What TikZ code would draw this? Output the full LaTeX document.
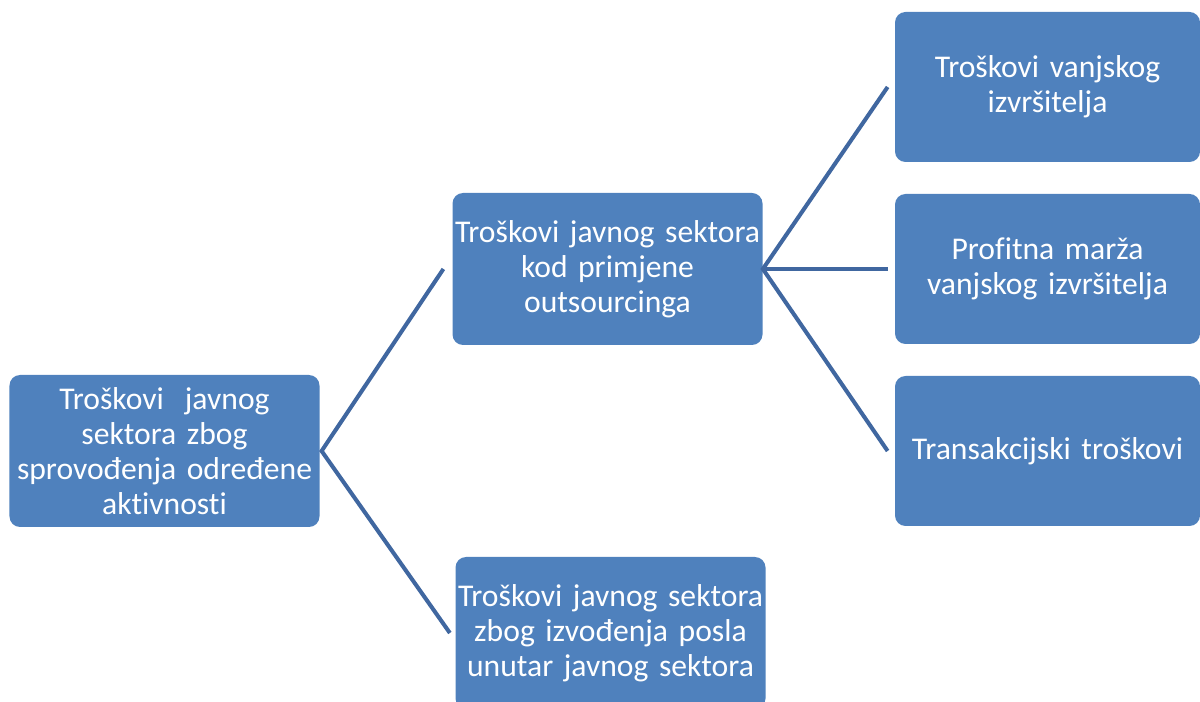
\documentclass[tikz,border=0pt]{standalone}
\usepackage{fontspec}
\setmainfont{Carlito}[Ligatures=NoCommon, WordSpace=0.8]
\usepackage{xcolor}
\usepackage{tikz}
\usetikzlibrary{positioning}
\definecolor{boxblue}{HTML}{4F81BD}
\definecolor{lineblue}{HTML}{4067A0}
\tikzstyle{costbox} = [rectangle, rounded corners=6pt, inner sep=0pt, minimum width=6.2cm, minimum height=3.04cm, text width=6.2cm, align=center, fill=boxblue, text=white, font=\fontsize{18}{20}\selectfont]
\tikzstyle{leafbox} = [costbox, minimum width=6.1cm, minimum height=3cm, text width=6.1cm]
\tikzstyle{branch} = [draw=lineblue, line width=2.3pt]

\begin{document}
\begin{tikzpicture}[on grid]
  \useasboundingbox (0,0) rectangle (24,14.04);
  \node (root) [costbox] at (3.29,5.02) {Troškovi\ \ javnog\\sektora zbog\\sprovođenja određene\\aktivnosti};
  \node (outsrc) [costbox, above right=3.64cm and 8.86cm of root] {Troškovi javnog sektora\\kod primjene\\outsourcinga};
  \node (inhouse) [costbox, below right=3.64cm and 8.92cm of root] {Troškovi javnog sektora\\zbog izvođenja posla\\unutar javnog sektora};
  \node (contractor) [leafbox, above right=3.64cm and 8.8cm of outsrc] {Troškovi vanjskog\\izvršitelja};
  \node (margin) [leafbox, right=8.8cm of outsrc] {Profitna marža\\vanjskog izvršitelja};
  \node (transact) [leafbox, below right=3.64cm and 8.8cm of outsrc] {Transakcijski troškovi};

  \draw[branch] ([xshift=-5pt]outsrc.west) -- ([xshift=1pt]root.east) -- ([xshift=-3pt]inhouse.west);
  \draw[branch] ([xshift=-4pt]contractor.west) -- (outsrc.east) -- ([xshift=-4pt]transact.west);
  \draw[branch] (outsrc.east) -- ([xshift=-4pt]margin.west);
\end{tikzpicture}
\end{document}
